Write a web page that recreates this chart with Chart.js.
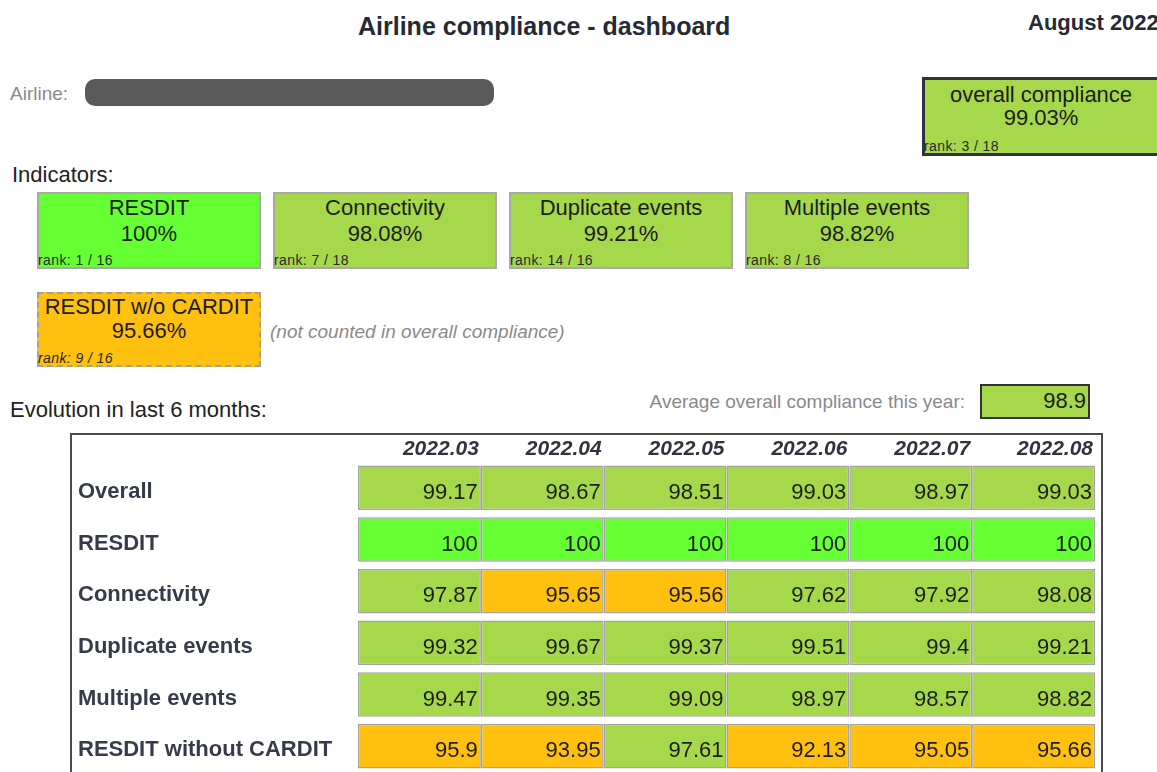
<!DOCTYPE html>
<html>
<head>
<meta charset="utf-8">
<script src="https://cdn.jsdelivr.net/npm/chart.js@4.4.1/dist/chart.umd.min.js"></script>
<style>
  body { margin: 0; width: 1157px; height: 772px; overflow: hidden; background: #fff;
         font-family: "Liberation Sans", Arial, sans-serif; color: #222; position: relative; }
  .t { position: absolute; white-space: nowrap; line-height: 1; }
  .box { position: absolute; box-sizing: border-box; }
  .box .l { position: absolute; left: 0; right: 0; text-align: center; font-size: 22px; line-height: 22px; color: #1c1c1c; }
  .box .rk { position: absolute; left: -1px; font-size: 14px; line-height: 14px; letter-spacing: 0.4px; color: #2a2a2a; }
  #table { position: absolute; left: 70px; top: 433px; width: 1033px; height: 345px;
           box-sizing: border-box; border: 2px solid #4a4a4a; }
  #table canvas { position: absolute; left: 0; top: 0; }
</style>
</head>
<body>
<div class="t" style="left:358px;top:14px;font-size:25px;font-weight:bold;color:#262a33">Airline compliance - dashboard</div>
<div class="t" style="left:1028px;top:12px;font-size:22px;font-weight:bold;color:#262a33">August 2022</div>

<div class="t" style="left:10px;top:84px;font-size:19px;color:#8a8a8a">Airline:</div>
<div class="box" style="left:85px;top:79px;width:409px;height:27px;border-radius:10px;background:#595959"></div>

<div class="box" id="overallBox" style="left:922px;top:77px;width:238px;height:79px;border:3px solid #2e323c"></div>

<div class="t" style="left:12px;top:164px;font-size:22px">Indicators:</div>
<div id="indicators"></div>

<div class="box" id="noCarditBox" style="left:37px;top:292px;width:224px;height:75px;border:2px dashed #a0a0a0"></div>
<div class="t" style="left:270px;top:322px;font-size:19px;font-style:italic;color:#8a8a8a">(not counted in overall compliance)</div>

<div class="t" style="left:10px;top:399px;font-size:22px">Evolution in last 6 months:</div>
<div class="t" style="right:192px;top:392px;font-size:19px;color:#8a8a8a">Average overall compliance this year:</div>
<div class="box" id="avgBox" style="left:980px;top:384px;width:110px;height:35px;border:2px solid #333"></div>

<div id="table"><canvas id="grid" width="1029" height="337"></canvas></div>

<script>
// table values, one array per row
const months = ['2022.03', '2022.04', '2022.05', '2022.06', '2022.07', '2022.08'];
const rowLabels = ['Overall', 'RESDIT', 'Connectivity', 'Duplicate events', 'Multiple events', 'RESDIT without CARDIT'];
const overall = [99.17, 98.67, 98.51, 99.03, 98.97, 99.03];
const resdit = [100, 100, 100, 100, 100, 100];
const connectivity = [97.87, 95.65, 95.56, 97.62, 97.92, 98.08];
const duplicateEvents = [99.32, 99.67, 99.37, 99.51, 99.4, 99.21];
const multipleEvents = [99.47, 99.35, 99.09, 98.97, 98.57, 98.82];
const resditNoCardit = [95.9, 93.95, 97.61, 92.13, 95.05, 95.66];
const rows = [overall, resdit, connectivity, duplicateEvents, multipleEvents, resditNoCardit];

// indicator boxes
const indicatorNames = ['RESDIT', 'Connectivity', 'Duplicate events', 'Multiple events'];
const indicatorValues = [100, 98.08, 99.21, 98.82];
const indicatorRanks = ['1 / 16', '7 / 18', '14 / 16', '8 / 16'];
const overallValue = 99.03;
const overallRank = '3 / 18';
const noCarditValue = 95.66;
const noCarditRank = '9 / 16';
const yearAverage = 98.9;

const FONT = '"Liberation Sans", Arial, sans-serif';

function cellColor(v) {
  if (v >= 100) return '#66ff33';
  if (v >= 97) return '#a6d84c';
  return '#ffc010';
}

function fillBox(el, name, value, rank, italicRank, l1, l2, r) {
  el.style.background = cellColor(value);
  el.innerHTML =
    '<div class="l" style="top:' + l1 + 'px">' + name + '</div>' +
    '<div class="l" style="top:' + l2 + 'px">' + value + '%</div>' +
    '<div class="rk" style="top:' + r + 'px' + (italicRank ? ';font-style:italic' : '') + '">rank: ' + rank + '</div>';
}

const ind = document.getElementById('indicators');
indicatorNames.forEach((n, i) => {
  const b = document.createElement('div');
  b.className = 'box';
  b.style.cssText = 'left:' + (37 + i * 236) + 'px;top:192px;width:224px;height:77px;border:2px solid #a8a8a8';
  fillBox(b, n, indicatorValues[i], indicatorRanks[i], false, 2.5, 29, 59);
  ind.appendChild(b);
});
fillBox(document.getElementById('overallBox'), 'overall compliance', overallValue, overallRank, false, 3.5, 27, 59);
fillBox(document.getElementById('noCarditBox'), 'RESDIT w/o CARDIT', noCarditValue, noCarditRank, true, 2, 26, 57);

const avg = document.getElementById('avgBox');
avg.style.background = cellColor(yearAverage);
avg.innerHTML = '<div class="t" style="right:2px;top:3.5px;font-size:22px;color:#1c1c1c">' + yearAverage + '</div>';

// numbers written into each cell
const cellText = {
  id: 'cellText',
  afterDatasetsDraw(chart) {
    const ctx = chart.ctx;
    ctx.save();
    ctx.font = '22px ' + FONT;
    ctx.fillStyle = '#1c1c1c';
    ctx.textAlign = 'right';
    ctx.textBaseline = 'alphabetic';
    chart.data.datasets.forEach((ds, j) => {
      chart.getDatasetMeta(j).data.forEach((bar, i) => {
        ctx.fillText(String(rows[i][j]), bar.x - 3, bar.y + bar.height / 2 - 11);
      });
    });
    ctx.restore();
  }
};

const datasets = months.map((m, j) => ({
  label: m,
  data: rows.map(() => [j, j + 1]),
  backgroundColor: rows.map(r => cellColor(r[j])),
  borderColor: '#a3a3a3',
  borderWidth: 1.5,
  borderSkipped: false,
  grouped: false,
  categoryPercentage: 1,
  barPercentage: 0.86
}));

new Chart(document.getElementById('grid'), {
  type: 'bar',
  data: { labels: rowLabels, datasets: datasets },
  options: {
    indexAxis: 'y',
    responsive: false,
    animation: false,
    layout: { padding: { left: 6, right: 6, top: 0, bottom: 0 } },
    plugins: { legend: { display: false }, tooltip: { enabled: false } },
    scales: {
      x: {
        type: 'linear',
        position: 'top',
        min: 0,
        max: 6,
        grid: { display: false, drawTicks: false },
        border: { display: false },
        ticks: {
          stepSize: 1,
          align: 'end',
          padding: 0,
          labelOffset: -2,
          maxRotation: 0,
          autoSkip: false,
          color: '#30343e',
          font: { family: FONT, size: 21, weight: 'bold', style: 'italic' },
          callback: v => months[v - 1] || ''
        },
        afterFit: s => { s.height = 27; s.paddingLeft = 0; s.paddingRight = 0; }
      },
      y: {
        type: 'category',
        grid: { display: false, drawTicks: false },
        border: { display: false },
        ticks: {
          crossAlign: 'far',
          padding: 0,
          labelOffset: 4,
          color: '#363b49',
          font: { family: FONT, size: 22, weight: 'bold' }
        },
        afterFit: s => { s.width = 280; s.paddingTop = 0; s.paddingBottom = 0; }
      }
    }
  },
  plugins: [cellText]
});
</script>
</body>
</html>
